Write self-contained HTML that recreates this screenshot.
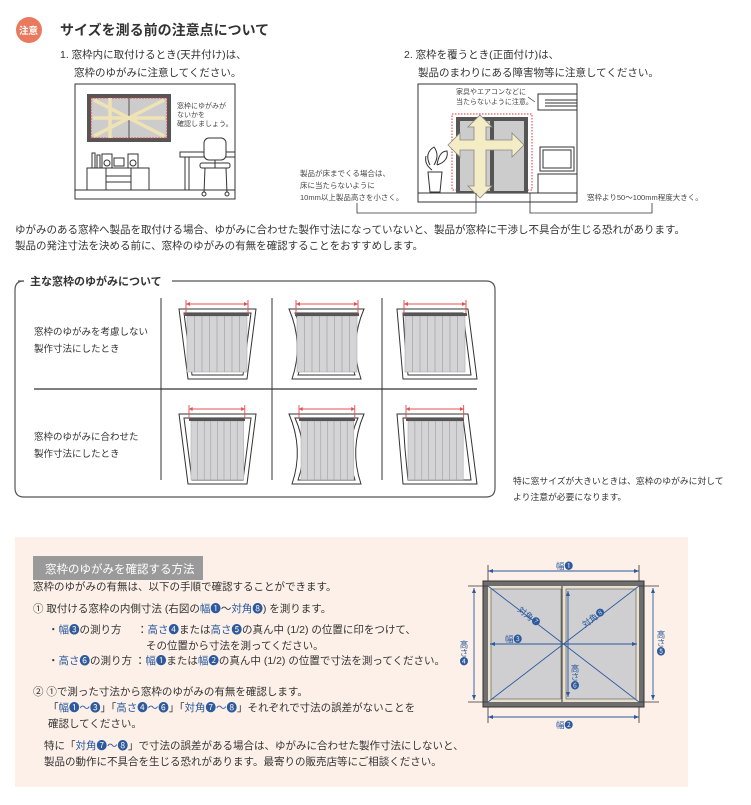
<!DOCTYPE html>
<html><head><meta charset="utf-8"><style>
html,body{margin:0;padding:0;background:#fff;}
svg{display:block;font-family:"Liberation Sans","Noto Sans CJK JP",sans-serif;}
.t{font-size:10.5px;fill:#333;}
.s{font-size:7px;fill:#444;}
.b{fill:#2b5a9e;}
</style></head><body>
<svg width="751" height="805" viewBox="0 0 751 805" xmlns="http://www.w3.org/2000/svg">
<defs>
<g id="curt">
 <rect x="0" y="0" width="60" height="56" fill="#d4d4d6" stroke="#aaa" stroke-width="0.6"/>
 <g stroke="#9a9a9a" stroke-width="0.6">
  <line x1="7.5" y1="0" x2="7.5" y2="56"/><line x1="15" y1="0" x2="15" y2="56"/><line x1="22.5" y1="0" x2="22.5" y2="56"/><line x1="30" y1="0" x2="30" y2="56"/><line x1="37.5" y1="0" x2="37.5" y2="56"/><line x1="45" y1="0" x2="45" y2="56"/><line x1="52.5" y1="0" x2="52.5" y2="56"/>
 </g>
</g>
<g id="ra"><line x1="0" y1="0" x2="62" y2="0" stroke="#e05050" stroke-width="1"/><line x1="0" y1="-4" x2="0" y2="10" stroke="#e05050"/><line x1="62" y1="-4" x2="62" y2="10" stroke="#e05050"/><path d="M0,0 l4,-2 v4z M62,0 l-4,-2 v4z" fill="#e05050"/></g>
<g id="wa"><polygon points="0,0 77,0 68,70 9,70" fill="#fff" stroke="#333" stroke-width="1"/><polygon points="5,4 72,4 64,66 13,66" fill="#fff" stroke="#333" stroke-width="1"/></g>
<g id="wb"><path d="M0,0 H75 Q60,35 72,70 H3 Q15,35 0,0Z" fill="#fff" stroke="#333"/><path d="M6,4 H69 Q55,35 66,66 H9 Q20,35 6,4Z" fill="#fff" stroke="#333"/></g>
<g id="wc"><polygon points="0,0 71,0 80,70 6,70 3,35" fill="#fff" stroke="#333"/><polygon points="6,4 66,4 74,66 11,66 8,35" fill="#fff" stroke="#333"/></g>
</defs>

<!-- header -->
<circle cx="29" cy="30" r="13" fill="#ea7a5e"/>
<text x="19" y="34" font-size="9.5" fill="#fff" font-weight="bold">注意</text>
<text x="60" y="35" font-size="14" font-weight="bold" fill="#333">サイズを測る前の注意点について</text>
<text x="60" y="58" class="t">1. 窓枠内に取付けるとき(天井付け)は、</text>
<text x="74" y="76" class="t">窓枠のゆがみに注意してください。</text>
<text x="404" y="58" class="t">2. 窓枠を覆うとき(正面付け)は、</text>
<text x="418" y="76" class="t">製品のまわりにある障害物等に注意してください。</text>

<!-- left room -->
<rect x="75" y="84" width="160" height="115" fill="#fff" stroke="#333"/>
<line x1="75" y1="190" x2="235" y2="190" stroke="#333"/>
<rect x="87" y="94" width="84" height="48" fill="#555"/>
<rect x="91" y="98" width="76" height="40" fill="#ccc" stroke="#d33" stroke-dasharray="2,1" stroke-width="0.8"/>
<line x1="129" y1="98" x2="129" y2="138" stroke="#555"/>
<g stroke="#efe3b4" stroke-width="3.5"><line x1="93" y1="118" x2="165" y2="118"/><line x1="110" y1="98" x2="110" y2="138"/><line x1="94" y1="100" x2="164" y2="136"/><line x1="164" y1="100" x2="94" y2="136"/></g>
<text x="177" y="108" class="s">窓枠にゆがみが</text><text x="177" y="117" class="s">ないかを</text><text x="177" y="126" class="s">確認しましょう。</text>
<rect x="87" y="168" width="62" height="22" fill="#fff" stroke="#333"/><line x1="106" y1="168" x2="106" y2="190" stroke="#333"/><line x1="131" y1="168" x2="131" y2="190" stroke="#333"/><rect x="106" y="176" width="25" height="6" fill="none" stroke="#333"/>
<rect x="92" y="153" width="3" height="15" fill="#fff" stroke="#333"/><rect x="97" y="155" width="3" height="13" fill="#fff" stroke="#333"/>
<rect x="102" y="154" width="10" height="14" fill="#fff" stroke="#333"/><circle cx="107" cy="163" r="3" fill="none" stroke="#333"/>
<rect x="128" y="154" width="10" height="14" fill="#fff" stroke="#333"/><circle cx="133" cy="163" r="3" fill="none" stroke="#333"/>
<rect x="114" y="158" width="10" height="8" fill="#fff" stroke="#333"/>
<rect x="180" y="152" width="55" height="5" fill="#fff" stroke="#333"/><line x1="185" y1="157" x2="185" y2="190" stroke="#333"/><line x1="189" y1="157" x2="189" y2="190" stroke="#333"/>
<rect x="204" y="138" width="22" height="22" rx="5" fill="#fff" stroke="#333"/><rect x="200" y="163" width="30" height="5" rx="2" fill="#fff" stroke="#333"/>
<path d="M205,168 L204,193 M226,168 L227,193 M215,160 V168" stroke="#333" fill="none"/><circle cx="204" cy="194" r="2" fill="#fff" stroke="#333"/><circle cx="227" cy="194" r="2" fill="#fff" stroke="#333"/>

<!-- right room -->
<rect x="418" y="84" width="159" height="118" fill="#fff" stroke="#333"/>
<line x1="418" y1="193" x2="577" y2="193" stroke="#333"/>
<rect x="538" y="94" width="39" height="16" fill="#fff" stroke="#333"/><g stroke="#333"><line x1="545" y1="100" x2="577" y2="100"/><line x1="545" y1="103" x2="577" y2="103"/><line x1="545" y1="106" x2="577" y2="106"/></g>
<line x1="535" y1="102" x2="528" y2="97" stroke="#333" stroke-width="0.6"/>
<text x="456" y="94" class="s">家具やエアコンなどに</text><text x="456" y="104" class="s">当たらないように注意。</text>
<rect x="452" y="114" width="80" height="76" fill="none" stroke="#d33" stroke-dasharray="1.5,1.5"/>
<rect x="456" y="117" width="72" height="76" fill="#555"/>
<rect x="460" y="121" width="30" height="70" fill="#ccc"/><rect x="494" y="121" width="30" height="70" fill="#ccc"/>
<path d="M480,115 l12,12 h-6 v13 h26 v-7 l12,12 -12,12 v-7 h-26 v36 h6 l-12,12 -12,-12 h6 v-36 h-14 v7 l-12,-12 12,-12 v7 h14 v-13 h-6z" fill="#f4ecc4" stroke="#888" stroke-width="0.8"/>
<rect x="540" y="147" width="34" height="24" fill="#fff" stroke="#333"/><rect x="543" y="150" width="28" height="18" fill="#fff" stroke="#333"/>
<rect x="538" y="174" width="39" height="19" fill="#fff" stroke="#333"/>
<path d="M430,165 q-6,-12 4,-18 q6,8 0,18 M437,165 q2,-14 10,-14 q2,10 -10,14 M432,170 q-8,-6 -6,-14" fill="#fff" stroke="#333"/>
<polygon points="428,172 442,172 440,192 430,192" fill="#fff" stroke="#333"/>
<text x="300" y="176" class="s" style="font-size:7.5px">製品が床までくる場合は、</text><text x="300" y="188" class="s" style="font-size:7.5px">床に当たらないように</text><text x="300" y="200" class="s" style="font-size:7.5px">10mm以上製品高さを小さく。</text>
<text x="587" y="200" class="s" style="font-size:7.5px">窓枠より50～100mm程度大きく。</text>
<path d="M357,203 V213 H476 V193 M530,193 V213 H652 V203" fill="none" stroke="#333" stroke-width="0.8"/>

<text x="15" y="233" class="t">ゆがみのある窓枠へ製品を取付ける場合、ゆがみに合わせた製作寸法になっていないと、製品が窓枠に干渉し不具合が生じる恐れがあります。</text>
<text x="15" y="249" class="t">製品の発注寸法を決める前に、窓枠のゆがみの有無を確認することをおすすめします。</text>

<!-- distortion box -->
<path d="M24,281 Q15,281 15,290 V488 Q15,497 24,497 H486 Q495,497 495,488 V290 Q495,281 486,281 H172" fill="none" stroke="#555" stroke-width="1.2"/>
<line x1="18" y1="281" x2="24" y2="281" stroke="#555" stroke-width="1.2"/>
<text x="30" y="285" font-size="11" font-weight="bold" fill="#333">主な窓枠のゆがみについて</text>
<g stroke="#333"><line x1="161" y1="298" x2="161" y2="480"/><line x1="272" y1="298" x2="272" y2="480"/><line x1="382" y1="298" x2="382" y2="480"/><line x1="34" y1="389" x2="477" y2="389" stroke-width="1.2"/></g>
<text x="34" y="335" class="t" style="font-size:9.5px">窓枠のゆがみを考慮しない</text><text x="34" y="352" class="t" style="font-size:9.5px">製作寸法にしたとき</text>
<text x="34" y="440" class="t" style="font-size:9.5px">窓枠のゆがみに合わせた</text><text x="34" y="457" class="t" style="font-size:9.5px">製作寸法にしたとき</text>
<!-- row1 -->
<g transform="translate(179,309)"><use href="#wa"/><use href="#curt" transform="translate(8,7)"/><rect x="6" y="4" width="64" height="3" fill="#555"/><use href="#ra" transform="translate(7,-5)"/></g>
<g transform="translate(289,309)"><use href="#wb"/><use href="#curt" transform="translate(8,7)"/><rect x="6" y="4" width="64" height="3" fill="#555"/><use href="#ra" transform="translate(7,-5)"/></g>
<g transform="translate(397,309)"><use href="#wc"/><use href="#curt" transform="translate(8,7)"/><rect x="6" y="4" width="64" height="3" fill="#555"/><use href="#ra" transform="translate(7,-5)"/></g>
<!-- row2 -->
<g transform="translate(179,414)"><use href="#wa"/><use href="#curt" transform="translate(12,7) scale(0.88,1.05)"/><rect x="10" y="4" width="56" height="3" fill="#555"/><use href="#ra" transform="translate(10,-5) scale(0.9,1)"/></g>
<g transform="translate(289,414)"><use href="#wb"/><use href="#curt" transform="translate(12,7) scale(0.88,1.05)"/><rect x="10" y="4" width="56" height="3" fill="#555"/><use href="#ra" transform="translate(10,-5) scale(0.9,1)"/></g>
<g transform="translate(397,414)"><use href="#wc"/><use href="#curt" transform="translate(11,7) scale(0.92,1.05)"/><rect x="9" y="4" width="58" height="3" fill="#555"/><use href="#ra" transform="translate(9,-5) scale(0.93,1)"/></g>
<text x="513" y="484" class="t" style="font-size:8.8px">特に窓サイズが大きいときは、窓枠のゆがみに対して</text>
<text x="513" y="500" class="t" style="font-size:8.8px">より注意が必要になります。</text>

<!-- pink panel -->
<rect x="15" y="537" width="673" height="250" fill="#fdf0e8"/>
<rect x="33" y="556" width="170" height="24" fill="#9a9a9a"/>
<text x="45" y="573" font-size="11.5" fill="#fff">窓枠のゆがみを確認する方法</text>
<text x="33" y="590" class="t">窓枠のゆがみの有無は、以下の手順で確認することができます。</text>
<text x="33" y="612" class="t">① 取付ける窓枠の内側寸法 (右図の<tspan class="b">幅❶</tspan>～<tspan class="b">対角❽</tspan>) を測ります。</text>
<text x="48" y="633" class="t">・<tspan class="b">幅❸</tspan>の測り方</text>
<text x="137" y="633" class="t">：<tspan class="b">高さ❹</tspan>または<tspan class="b">高さ❺</tspan>の真ん中 (1/2) の位置に印をつけて、</text>
<text x="146" y="649" class="t">その位置から寸法を測ってください。</text>
<text x="48" y="664" class="t">・<tspan class="b">高さ❻</tspan>の測り方 ：<tspan class="b">幅❶</tspan>または<tspan class="b">幅❷</tspan>の真ん中 (1/2) の位置で寸法を測ってください。</text>
<text x="33" y="695" class="t">② ①で測った寸法から窓枠のゆがみの有無を確認します。</text>
<text x="48" y="711" class="t">「<tspan class="b">幅❶～❸</tspan>」「<tspan class="b">高さ❹～❻</tspan>」「<tspan class="b">対角❼～❽</tspan>」それぞれで寸法の誤差がないことを</text>
<text x="48" y="727" class="t">確認してください。</text>
<text x="44" y="749" class="t">特に「<tspan class="b">対角❼～❽</tspan>」で寸法の誤差がある場合は、ゆがみに合わせた製作寸法にしないと、</text>
<text x="44" y="765" class="t">製品の動作に不具合を生じる恐れがあります。最寄りの販売店等にご相談ください。</text>

<!-- frame diagram -->
<rect x="483" y="581" width="161" height="126" fill="#6e6e6e" stroke="#333"/>
<rect x="488" y="586" width="151" height="116" fill="#e8e0cc"/>
<rect x="491" y="589" width="70" height="110" fill="#cfcfd2" stroke="#555" stroke-width="0.6"/>
<rect x="566" y="589" width="70" height="110" fill="#cfcfd2" stroke="#555" stroke-width="0.6"/>
<line x1="562" y1="586" x2="562" y2="702" stroke="#333"/>
<g stroke="#2b5a9e" stroke-width="0.9" fill="none">
<line x1="488" y1="586" x2="639" y2="702"/><line x1="639" y1="586" x2="488" y2="702"/>
<line x1="490" y1="644" x2="637" y2="644"/><line x1="568" y1="591" x2="568" y2="697"/>
<line x1="488" y1="571" x2="639" y2="571"/><line x1="488" y1="717" x2="639" y2="717"/>
<line x1="474" y1="588" x2="474" y2="700"/><line x1="653" y1="588" x2="653" y2="700"/>
</g>
<g stroke="#333" stroke-width="0.8"><line x1="488" y1="565" x2="488" y2="581"/><line x1="639" y1="565" x2="639" y2="581"/><line x1="488" y1="707" x2="488" y2="723"/><line x1="639" y1="707" x2="639" y2="723"/>
<line x1="468" y1="586" x2="488" y2="586"/><line x1="468" y1="702" x2="488" y2="702"/><line x1="639" y1="586" x2="659" y2="586"/><line x1="639" y1="702" x2="659" y2="702"/></g>
<g fill="#2b5a9e"><path d="M488,571 l5,-2 v4z M639,571 l-5,-2 v4z M488,717 l5,-2 v4z M639,717 l-5,-2 v4z M474,588 l-2,5 h4z M474,700 l-2,-5 h4z M653,588 l-2,5 h4z M653,700 l-2,-5 h4z M490,644 l5,-2 v4z M637,644 l-5,-2 v4z M568,591 l-2,5 h4z M568,697 l-2,-5 h4z"/></g>
<g font-size="8.5" class="b">
<text x="556" y="569">幅❶</text><text x="556" y="728">幅❷</text>
<text x="505" y="642">幅❸</text>
<text x="464" y="640" writing-mode="tb">高さ❹</text>
<text x="661" y="630" writing-mode="tb">高さ❺</text>
<text x="575" y="664" writing-mode="tb">高さ❻</text>
<text x="517" y="611" transform="rotate(37 517 611)">対角❼</text>
<text x="585" y="628" transform="rotate(-37 585 628)">対角❽</text>
</g>
</svg>
</body></html>
